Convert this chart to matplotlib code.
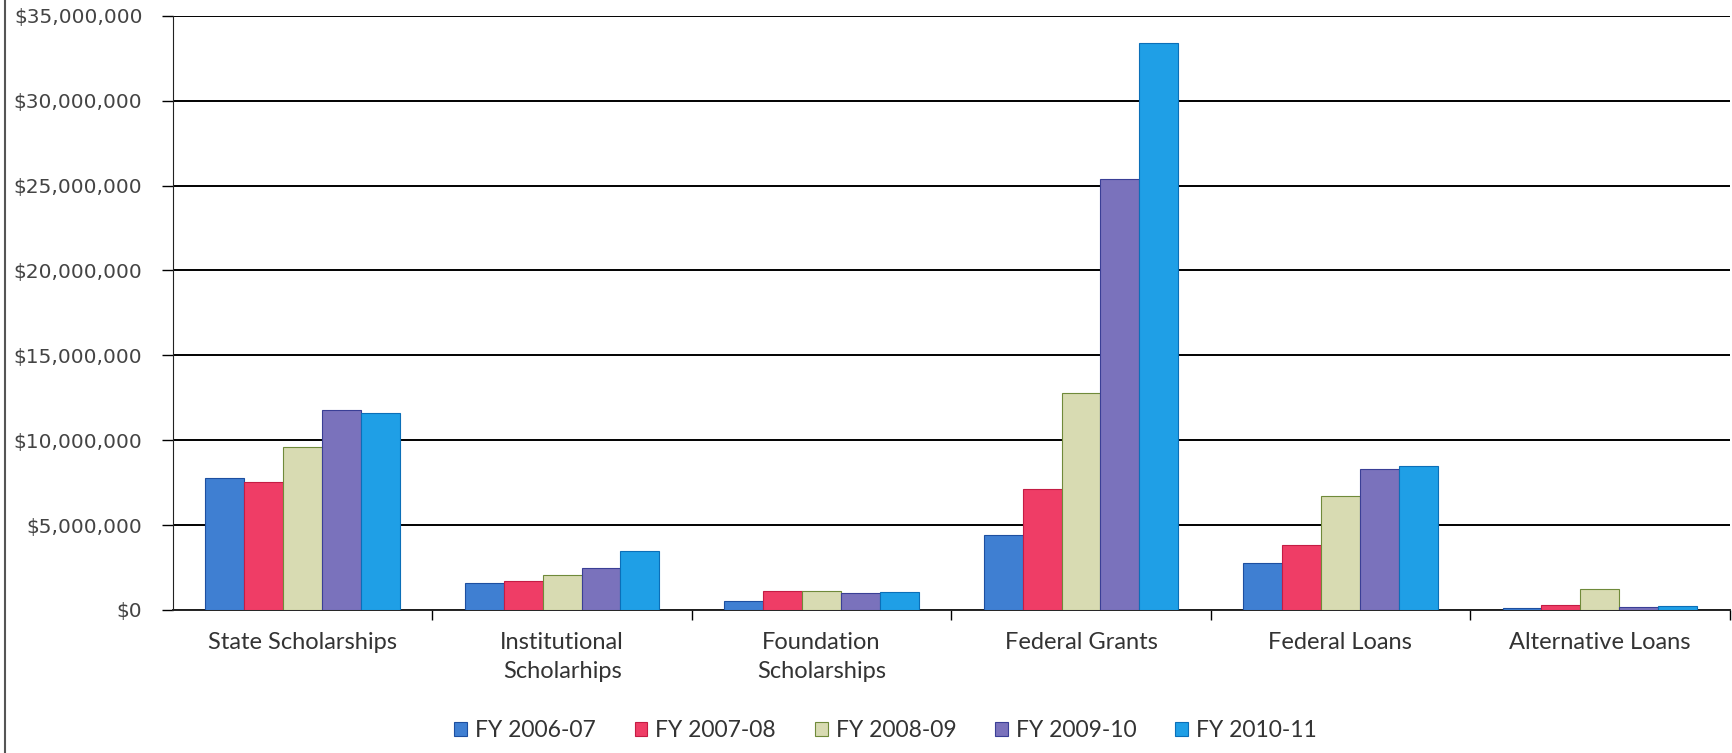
import matplotlib
matplotlib.use("Agg")
import matplotlib.pyplot as plt
import numpy as np
from matplotlib.ticker import FuncFormatter, FixedLocator

# aid categories and amounts per fiscal year (dollars)
categories = ['State Scholarships', 'Institutional\nScholarhips', 'Foundation\nScholarships',
              'Federal Grants', 'Federal Loans', 'Alternative Loans']
years = ['FY 2006-07', 'FY 2007-08', 'FY 2008-09', 'FY 2009-10', 'FY 2010-11']
fy0607 = [7750000, 1600000, 550000, 4400000, 2750000, 100000]
fy0708 = [7550000, 1700000, 1100000, 7150000, 3850000, 300000]
fy0809 = [9600000, 2050000, 1100000, 12800000, 6700000, 1250000]
fy0910 = [11750000, 2450000, 1000000, 25400000, 8300000, 150000]
fy1011 = [11600000, 3450000, 1050000, 33400000, 8450000, 220000]

colors = ['#3f7fd2', '#ef3d66', '#d8dbb2', '#7a72bc', '#1f9fe6']
edges = ['#1d4fa0', '#c41c44', '#6f8a3a', '#3a3f96', '#0b6fb8']

fig = plt.figure(figsize=(17.33, 7.53), dpi=100)
ax = fig.add_axes([0.0998, 0.19, 0.8982, 0.789])

series = [fy0607, fy0708, fy0809, fy0910, fy1011]
x = np.arange(len(categories))
w = 0.15
for i, vals in enumerate(series):
    ax.bar(x + (i - 2) * w, vals, w, color=colors[i], edgecolor=edges[i],
           linewidth=0.8, label=years[i], zorder=3)

ax.set_xlim(-0.5, len(categories) - 0.5)
ax.set_ylim(0, 35000000)
ax.set_yticks(np.arange(0, 35000001, 5000000))
ax.yaxis.set_major_formatter(FuncFormatter(lambda v, p: '${:,.0f}'.format(v)))
ax.grid(axis='y', color='black', linewidth=1.4, zorder=0)
ax.tick_params(axis='y', length=8, width=1, pad=14, labelsize=14.5)
for t in ax.get_yticklabels():
    t.set_family('DejaVu Sans')
    t.set_color('#444444')

ax.set_xticks(x)
ax.set_xticklabels(categories, fontsize=17, family='Lato', color='#333333', linespacing=1.45)
ax.tick_params(axis='x', length=0, pad=16)
ax.xaxis.set_minor_locator(FixedLocator(np.arange(0.5, len(categories) - 0.4, 1)))
ax.tick_params(axis='x', which='minor', length=7, width=1, color='black')

for s in ['top', 'right']:
    ax.spines[s].set_visible(False)
ax.spines['left'].set_color('#222222')
ax.spines['bottom'].set_color('#222222')
ax.spines['bottom'].set_linewidth(1.4)

leg = fig.legend(loc='center', bbox_to_anchor=(0.511, 0.03), ncol=5, frameon=False,
                 handlelength=0.55, handleheight=0.55, handletextpad=0.35, columnspacing=1.7,
                 prop={'family': 'Lato', 'size': 16.5})
for t in leg.get_texts():
    t.set_color('#333333')

# page border on the left of the scan
fig.add_artist(plt.Line2D([0.003, 0.003], [0, 1], color='#555555', linewidth=1.5))

fig.savefig('out.png', dpi=100, facecolor='white')
